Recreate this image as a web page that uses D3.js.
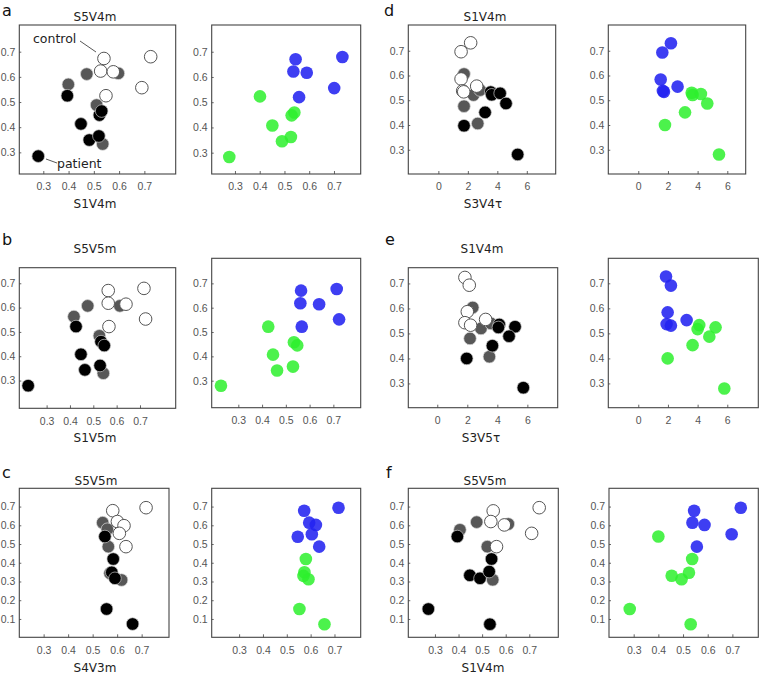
<!DOCTYPE html>
<html><head><meta charset="utf-8">
<script src="https://cdn.jsdelivr.net/npm/d3@7/dist/d3.min.js"></script>
<style>
html,body{margin:0;padding:0;background:#fff;}
svg text{font-family:"DejaVu Sans",sans-serif;}
.tick text{font-family:"Liberation Sans",Arial,sans-serif;font-size:10.5px;fill:#555;}
</style></head>
<body><svg id="chart" width="760" height="676"></svg>
<script>
// ---------- data ----------
const aControls=[[0.540,0.673],[0.527,0.623],[0.577,0.620],[0.725,0.680],[0.690,0.557],[0.548,0.525]];
const aOthers=[[0.399,0.570],[0.472,0.611],[0.597,0.614],[0.511,0.488],[0.535,0.333]];
const aPatients=[[0.280,0.285],[0.395,0.525],[0.449,0.413],[0.482,0.349],[0.520,0.365],[0.522,0.448],[0.531,0.464]];
const aBlue=[[0.545,0.670],[0.536,0.622],[0.590,0.617],[0.734,0.679],[0.701,0.556],[0.559,0.520]];
const aGreen=[[0.277,0.283],[0.401,0.523],[0.451,0.408],[0.490,0.345],[0.526,0.362],[0.529,0.448],[0.540,0.459]];

const bControls=[[0.564,0.670],[0.564,0.618],[0.640,0.614],[0.717,0.679],[0.724,0.553],[0.567,0.522]];
const bOthers=[[0.417,0.563],[0.476,0.607],[0.614,0.607],[0.526,0.484],[0.543,0.330]];
const bPatients=[[0.221,0.279],[0.426,0.522],[0.447,0.408],[0.464,0.344],[0.529,0.362],[0.533,0.460],[0.547,0.444]];
const bBlue=[[0.564,0.670],[0.561,0.618],[0.640,0.614],[0.714,0.677],[0.724,0.552],[0.567,0.522]];
const bGreen=[[0.227,0.279],[0.426,0.522],[0.446,0.407],[0.463,0.342],[0.530,0.358],[0.534,0.458],[0.548,0.445]];

const cControls=[[0.582,0.678],[0.601,0.620],[0.628,0.598],[0.609,0.557],[0.718,0.694],[0.636,0.486]];
const cOthers=[[0.541,0.614],[0.560,0.579],[0.564,0.486],[0.571,0.344],[0.618,0.308]];
const cPatients=[[0.550,0.540],[0.584,0.420],[0.578,0.349],[0.591,0.317],[0.557,0.153],[0.663,0.073]];
const cBlue=[[0.573,0.678],[0.594,0.614],[0.622,0.602],[0.717,0.694],[0.546,0.539],[0.605,0.552],[0.636,0.486]];
const cGreen=[[0.580,0.420],[0.574,0.349],[0.570,0.330],[0.591,0.312],[0.553,0.153],[0.658,0.072]];

const dControls=[[1.54,0.696],[2.19,0.732],[1.54,0.586],[1.65,0.538],[1.72,0.534],[2.60,0.557]];
const dOthers=[[1.74,0.606],[2.38,0.521],[2.83,0.541],[1.74,0.476],[2.67,0.406]];
const dPatients=[[3.55,0.533],[3.62,0.522],[4.19,0.528],[4.59,0.487],[3.17,0.451],[1.74,0.397],[5.38,0.281]];
const dBlue=[[1.62,0.693],[2.20,0.730],[1.51,0.584],[1.66,0.538],[1.73,0.534],[2.65,0.555]];
const dGreen=[[3.60,0.530],[3.66,0.521],[4.22,0.525],[4.65,0.487],[3.15,0.451],[1.80,0.400],[5.44,0.281]];

const eControls=[[1.84,0.724],[2.13,0.693],[2.00,0.587],[1.84,0.543],[2.22,0.533],[3.22,0.556]];
const eOthers=[[2.36,0.604],[2.91,0.520],[3.58,0.540],[2.18,0.480],[3.47,0.407]];
const ePatients=[[4.13,0.536],[4.07,0.524],[5.18,0.527],[4.78,0.489],[3.67,0.451],[1.96,0.400],[5.73,0.283]];
const eBlue=[[1.87,0.727],[2.20,0.691],[1.98,0.584],[1.91,0.537],[2.20,0.531],[3.26,0.553]];
const eGreen=[[4.11,0.533],[4.00,0.517],[5.21,0.524],[4.79,0.487],[3.66,0.453],[1.98,0.400],[5.80,0.280]];

const fControls=[[0.547,0.677],[0.537,0.620],[0.594,0.602],[0.742,0.694],[0.710,0.557],[0.561,0.486]];
const fOthers=[[0.406,0.576],[0.477,0.617],[0.611,0.607],[0.522,0.486],[0.545,0.309]];
const fPatients=[[0.272,0.153],[0.395,0.540],[0.448,0.333],[0.491,0.317],[0.530,0.353],[0.540,0.420],[0.533,0.072]];
const fBlue=[[0.545,0.678],[0.538,0.614],[0.587,0.602],[0.734,0.694],[0.697,0.552],[0.556,0.486]];
const fGreen=[[0.284,0.153],[0.400,0.540],[0.454,0.331],[0.494,0.312],[0.524,0.347],[0.537,0.420],[0.531,0.072]];

const ticksV=[0.3,0.4,0.5,0.6,0.7];
const ticksVlow=[0.1,0.2,0.3,0.4,0.5,0.6,0.7];
const ticksTau=[0,2,4,6];
const panelLetters=["a","b","c","d","e","f"];
const titles=["S5V4m","S5V5m","S5V5m","S1V4m","S1V4m","S5V5m"];
const xLabels=["S1V4m","S1V5m","S4V3m","S3V4τ","S3V5τ","S1V4m"];

// ---------- layout ----------
const svg=d3.select("#chart");
const R=6.3;
const C={open:"#fff",gray:"#575757",black:"#000",blue:"rgb(35,35,240)",green:"rgb(45,240,45)"};

const figs=[
 {L:{f:[19.3,175.7,25,174],xd:[0.205,0.824],yd:[0.214,0.806]},
  Rr:{f:[211.7,360.7,25,174],xd:[0.206,0.808],yd:[0.2155,0.806]},
  xt:ticksV,yt:ticksV,ctl:aControls,oth:aOthers,pat:aPatients,blue:aBlue,green:aGreen,
  letter:[2,16],title:[95,21],xl:[95,208]},
 {L:{f:[19.3,175.7,267.7,408.3],xd:[0.183,0.853],yd:[0.186,0.764]},
  Rr:{f:[211.7,360.7,258.3,407.7],xd:[0.188,0.815],yd:[0.189,0.803]},
  xt:ticksV,yt:ticksV,ctl:bControls,oth:bOthers,pat:bPatients,blue:bBlue,green:bGreen,
  letter:[2,245],title:[95,253],xl:[95,442]},
 {L:{f:[19.3,169,488.3,637.3],xd:[0.2007,0.8116],yd:[0.0021,0.7975]},
  Rr:{f:[211.7,360.7,488.3,637.3],xd:[0.185,0.81],yd:[0.0021,0.7975]},
  xt:ticksV,yt:ticksVlow,ctl:cControls,oth:cOthers,pat:cPatients,blue:cBlue,green:cGreen,
  letter:[2,478],title:[96,485],xl:[95,672]},
 {L:{f:[408.3,555.7,25,174],xd:[-2.04,7.96],yd:[0.202,0.804]},
  Rr:{f:[608.3,745.7,25,174],xd:[-2.02,7.24],yd:[0.202,0.804]},
  xt:ticksTau,yt:ticksV,ctl:dControls,oth:dOthers,pat:dPatients,blue:dBlue,green:dGreen,
  letter:[384,16],title:[485,21],xl:[483,208]},
 {L:{f:[408.3,557.7,267.7,407.7],xd:[-1.93,8.02],yd:[0.203,0.763]},
  Rr:{f:[608.3,758.3,258.3,407.7],xd:[-2.02,8.09],yd:[0.203,0.8]},
  xt:ticksTau,yt:ticksV,ctl:eControls,oth:eOthers,pat:ePatients,blue:eBlue,green:eGreen,
  letter:[385,245],title:[482,253],xl:[481,442]},
 {L:{f:[408.3,558.3,488.3,637.3],xd:[0.187,0.823],yd:[0.0021,0.7975]},
  Rr:{f:[609,758.3,488.3,637.3],xd:[0.2,0.805],yd:[0.0021,0.7975]},
  xt:ticksV,yt:ticksVlow,ctl:fControls,oth:fOthers,pat:fPatients,blue:fBlue,green:fGreen,
  letter:[386,478],title:[485,485],xl:[483,672]}
];

function panel(p,xt,yt,layers){
  const [x0,x1,y0,y1]=p.f;
  const x=d3.scaleLinear().domain(p.xd).range([x0,x1]);
  const y=d3.scaleLinear().domain(p.yd).range([y1,y0]);
  const g=svg.append("g");
  const fmt=v=>Number.isInteger(v)?String(v):d3.format(".1f")(v);
  const ax=g.append("g").attr("transform",`translate(0,${y1})`)
    .call(d3.axisBottom(x).tickValues(xt).tickSize(-3).tickPadding(9).tickFormat(fmt));
  const ay=g.append("g").attr("transform",`translate(${x0},0)`)
    .call(d3.axisLeft(y).tickValues(yt).tickSize(-2).tickPadding(4).tickFormat(fmt));
  [ax,ay].forEach(a=>{a.select(".domain").remove();a.selectAll(".tick line").attr("stroke","#666");});
  layers.forEach(L=>{
    g.append("g").selectAll("circle").data(L.data).join("circle")
     .attr("cx",d=>x(d[0])).attr("cy",d=>y(d[1])).attr("r",R)
     .attr("fill",L.fill).attr("fill-opacity",L.op||1)
     .attr("stroke",L.stroke).attr("stroke-width",L.sw);
  });
  g.append("rect").attr("x",x0).attr("y",y0).attr("width",x1-x0).attr("height",y1-y0)
   .attr("fill","none").attr("stroke","#444").attr("stroke-width",1.1);
  return {x,y};
}

figs.forEach((F,i)=>{
  panel(F.L,F.xt,F.yt,[
    {data:F.oth,fill:C.gray,stroke:"#ddd",sw:0.7},
    {data:F.ctl,fill:C.open,stroke:"#555",sw:1},
    {data:F.pat,fill:C.black,stroke:"#ccc",sw:0.7}
  ]);
  panel(F.Rr,F.xt,F.yt,[
    {data:F.blue,fill:C.blue,stroke:"none",sw:0,op:0.88},
    {data:F.green,fill:C.green,stroke:"none",sw:0,op:0.85}
  ]);
  svg.append("text").attr("x",F.letter[0]).attr("y",F.letter[1]).text(panelLetters[i])
    .attr("font-size",16).attr("fill","#111");
  svg.append("text").attr("x",F.title[0]).attr("y",F.title[1]).text(titles[i])
    .attr("text-anchor","middle").attr("font-size",12).attr("fill","#222");
  svg.append("text").attr("x",F.xl[0]).attr("y",F.xl[1]).text(xLabels[i])
    .attr("text-anchor","middle").attr("font-size",12).attr("fill","#222");
  if(i===0){
    svg.append("text").attr("x",33).attr("y",43).text("control").attr("font-size",12.5).attr("fill","#222");
    svg.append("line").attr("x1",80).attr("y1",41).attr("x2",96).attr("y2",52).attr("stroke","#444").attr("stroke-width",0.9);
    svg.append("text").attr("x",57).attr("y",168).text("patient").attr("font-size",12.5).attr("fill","#222");
    svg.append("line").attr("x1",46).attr("y1",159).attr("x2",57).attr("y2",163).attr("stroke","#444").attr("stroke-width",0.9);
  }
});
</script></body></html>
